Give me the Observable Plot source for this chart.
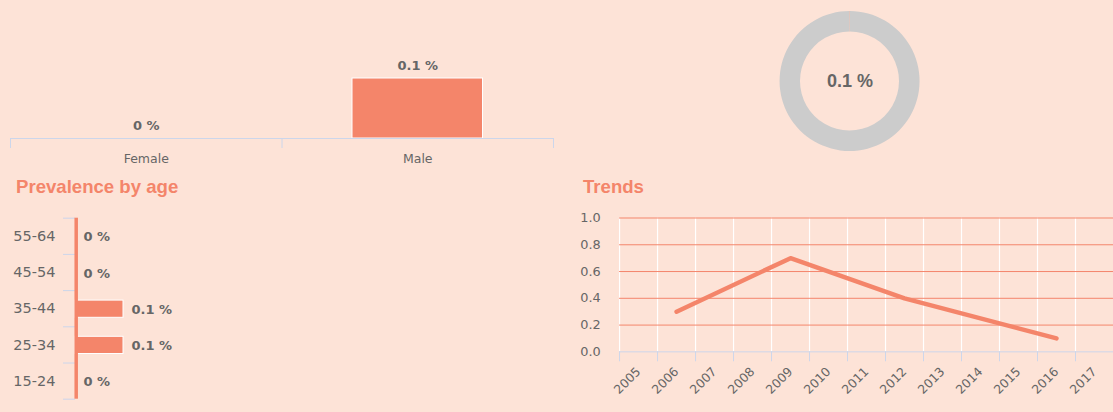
<!DOCTYPE html>
<html>
<head>
<meta charset="utf-8">
<script src="https://cdn.jsdelivr.net/npm/d3@7"></script>
<script src="https://cdn.jsdelivr.net/npm/@observablehq/plot@0.6"></script>
<style>
  html, body { margin: 0; padding: 0; }
  body { width: 1113px; height: 412px; overflow: hidden; position: relative; background: #fde3d7; }
  .box { position: absolute; }
  .title { position: absolute; font-family: "Liberation Sans", Arial, sans-serif; font-weight: bold; font-size: 18.6px; line-height: 18px; color: #f4856a; white-space: nowrap; }
  svg { overflow: visible; }
</style>
</head>
<body>
<div id="sex" class="box" style="left:0;top:0"></div>
<div id="donut" class="box" style="left:760px;top:0"></div>
<div class="title" style="left:16px;top:178px">Prevalence by age</div>
<div id="age" class="box" style="left:0;top:200px"></div>
<div class="title" style="left:583px;top:178px">Trends</div>
<div id="trend" class="box" style="left:560px;top:200px"></div>
<script>
// ---- data ----
const sexCategories = ["Female", "Male"];
const sexValues = [0, 0.1];

const donutLabels = ["Prevalence", "Rest"];
const donutValues = [0.1, 99.9];
const donutCenterText = "0.1 %";

const ageCategories = ["55-64", "45-54", "35-44", "25-34", "15-24"];
const ageValues = [0, 0, 0.1, 0.1, 0];

const trendYears = [2006, 2009, 2012, 2016];
const trendValues = [0.3, 0.7, 0.4, 0.1];
const trendXTickLabels = [2005, 2006, 2007, 2008, 2009, 2010, 2011, 2012, 2013, 2014, 2015, 2016, 2017];
const trendYTicks = [0, 0.2, 0.4, 0.6, 0.8, 1.0];

// ---- styles ----
const SALMON = "#f4856a";
const AXIS = "#ccd6eb";
const TEXT = "#666666";
const GREY = "#cccccc";
const SANS = "'DejaVu Sans', Verdana, sans-serif";
const pct = v => `${v} %`;

const sexData = sexCategories.map((c, i) => ({category: c, value: sexValues[i]}));
const ageData = ageCategories.map((c, i) => ({category: c, value: ageValues[i]}));
const trendData = trendYears.map((y, i) => ({year: y, value: trendValues[i]}));
const donutData = donutLabels.map((l, i) => ({label: l, value: donutValues[i]}));

// ---- sex bar chart ----
const sexPlot = Plot.plot({
  width: 563, height: 170,
  marginLeft: 10, marginRight: 10, marginTop: 18, marginBottom: 32,
  style: {background: "transparent", fontFamily: SANS, fontSize: "12.5px", color: TEXT},
  x: {domain: [0, sexCategories.length]},
  y: {domain: [0, 0.2], axis: null},
  marks: [
    Plot.rectY(sexData, {x1: (d, i) => i, x2: (d, i) => i + 1, y1: () => 0, y2: "value",
      insetLeft: 70.5, insetRight: 70.5, fill: SALMON, stroke: "white", strokeWidth: 1}),
    Plot.ruleY([0], {stroke: AXIS, strokeWidth: 1}),
    Plot.axisX({ticks: d3.range(sexCategories.length + 1), tickSize: 10, tickFormat: () => "", stroke: AXIS, label: null}),
    Plot.text(sexData, {x: (d, i) => i + 0.5, y: "value", text: d => pct(d.value), dy: -13,
      fontWeight: "bold", fontSize: 13, fill: TEXT}),
    Plot.text(sexData, {x: (d, i) => i + 0.5, y: () => 0, text: "category", dy: 20, fontSize: 12.5, fill: TEXT})
  ]
});
document.getElementById("sex").append(sexPlot);

// ---- donut ----
const donutPlot = Plot.plot({
  width: 180, height: 162, margin: 0,
  style: {background: "transparent"},
  x: {axis: null}, y: {axis: null},
  marks: [
    (index, scales, values, dimensions) => {
      const w = dimensions.width, h = dimensions.height;
      const g = d3.create("svg:g").attr("transform", `translate(${w / 2 - 0.5},${h / 2})`);
      const pie = d3.pie().sort(null).value(d => d.value);
      const arc = d3.arc().innerRadius(49.5).outerRadius(70);
      g.selectAll("path").data(pie(donutData)).join("path")
        .attr("d", arc)
        .attr("fill", (d, i) => i === 0 ? SALMON : GREY);
      return g.node();
    },
    Plot.text([donutCenterText], {frameAnchor: "middle", text: d => d, dx: -0.5,
      fontFamily: "'Liberation Sans', Arial, sans-serif", fontWeight: "bold", fontSize: 18, fill: TEXT})
  ]
});
document.getElementById("donut").append(donutPlot);

// ---- age bar chart ----
const agePlot = Plot.plot({
  width: 560, height: 212,
  marginLeft: 75, marginRight: 5, marginTop: 17.7, marginBottom: 13.3,
  style: {background: "transparent", fontFamily: SANS, fontSize: "12px", color: TEXT},
  x: {domain: [0, 1], axis: null},
  y: {domain: [0, ageCategories.length], reverse: true},
  marks: [
    Plot.axisY({ticks: d3.range(ageCategories.length + 1), tickSize: 12, tickFormat: () => "", stroke: AXIS, label: null}),
    Plot.rectX(ageData, {x1: () => 0, x2: "value", y1: (d, i) => i, y2: (d, i) => i + 1,
      insetTop: 10, insetBottom: 9, fill: SALMON, stroke: "white", strokeWidth: 1}),
    Plot.ruleX([0], {stroke: SALMON, strokeWidth: 3.5, dx: 0.7}),
    Plot.text(ageData, {x: () => 0, y: (d, i) => i + 0.5, text: "category", textAnchor: "end", dx: -20,
      fontSize: 14.5, fill: TEXT}),
    Plot.text(ageData, {x: "value", y: (d, i) => i + 0.5, text: d => pct(d.value), textAnchor: "start", dx: 8, dy: 1,
      fontWeight: "bold", fontSize: 13, fill: TEXT})
  ]
});
document.getElementById("age").append(agePlot);

// ---- trends ----
const trendPlot = Plot.plot({
  width: 559, height: 212,
  marginLeft: 59.7, marginRight: 0, marginTop: 17.7, marginBottom: 59,
  style: {background: "transparent", fontFamily: SANS, fontSize: "13px", color: TEXT},
  x: {domain: [2005, 2018]},
  y: {domain: [0, 1]},
  marks: [
    Plot.ruleX(trendXTickLabels, {stroke: "white", strokeWidth: 1.2}),
    Plot.ruleY(trendYTicks.filter(d => d > 0), {stroke: SALMON, strokeWidth: 1}),
    Plot.ruleY([0], {stroke: AXIS, strokeWidth: 1}),
    Plot.axisX({ticks: trendXTickLabels, tickSize: 10, tickFormat: () => "", stroke: AXIS, label: null}),
    Plot.axisY({ticks: trendYTicks, tickSize: 0, tickPadding: 19, tickFormat: d3.format(".1f"), fill: TEXT, label: null}),
    Plot.text(trendXTickLabels, {x: d => d + 0.5, y: () => 0, text: d => String(d), rotate: -45,
      textAnchor: "end", dy: 18, fontSize: 12.5, fill: TEXT}),
    Plot.line(trendData, {x: d => d.year + 0.5, y: "value", stroke: SALMON, strokeWidth: 4.5,
      strokeLinecap: "round", strokeLinejoin: "round"})
  ]
});
document.getElementById("trend").append(trendPlot);
</script>
</body>
</html>
